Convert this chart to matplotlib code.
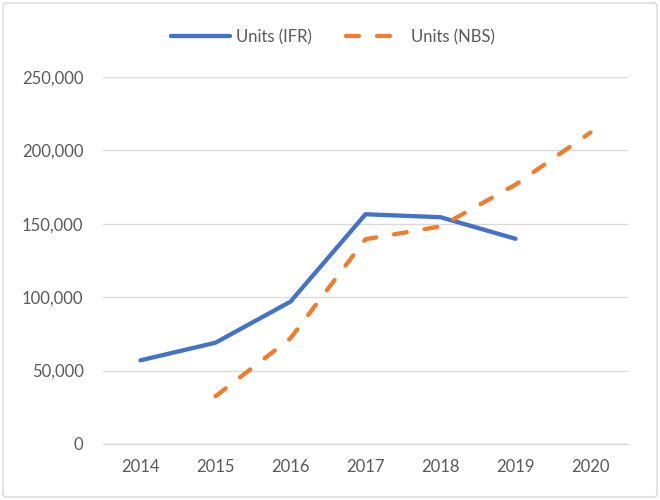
import matplotlib
matplotlib.use("Agg")
import matplotlib.pyplot as plt
from matplotlib.patches import FancyBboxPatch
from matplotlib.ticker import FuncFormatter

years = ["2014", "2015", "2016", "2017", "2018", "2019", "2020"]
ifr_years = ["2014", "2015", "2016", "2017", "2018", "2019"]
ifr_units = [57000, 69000, 97000, 156500, 154500, 139800]
nbs_years = ["2015", "2016", "2017", "2018", "2019", "2020"]
nbs_units = [32500, 72000, 139500, 148200, 176700, 212200]
yticks = [0, 50000, 100000, 150000, 200000, 250000]

plt.rcParams['font.family'] = ['Lato', 'DejaVu Sans']
text_color = '#595959'

fig = plt.figure(figsize=(6.6, 5.0), dpi=100)
ax = fig.add_axes([103/660, 1 - 444/500, 525/660, 367/500])

xpos = {y: i for i, y in enumerate(years)}
ax.plot([xpos[y] for y in ifr_years], ifr_units, color='#4472C4', lw=3.1,
        solid_capstyle='round', solid_joinstyle='round', label='Units (IFR)')
ax.plot([xpos[y] for y in nbs_years], nbs_units, color='#ED7D31', lw=3.1,
        dashes=(3.0, 4.2), dash_capstyle='round', label='Units (NBS)')

ax.set_xlim(-0.5, len(years) - 0.5)
ax.set_ylim(0, 250000)
ax.set_xticks(range(len(years)))
ax.set_xticklabels(years)
ax.set_yticks(yticks)
ax.yaxis.set_major_formatter(FuncFormatter(lambda v, p: f"{int(v):,}"))
ax.grid(axis='y', color='#D9D9D9', lw=1.0)
ax.set_axisbelow(True)
for s in ['top', 'right', 'left']:
    ax.spines[s].set_visible(False)
ax.spines['bottom'].set_color('#D9D9D9')
ax.spines['bottom'].set_linewidth(1.0)
ax.tick_params(axis='both', length=0, colors=text_color, labelsize=12)
ax.tick_params(axis='y', pad=14)
ax.tick_params(axis='x', pad=11)

leg = fig.legend(loc='center', bbox_to_anchor=(333/660, 1 - 37/500), ncol=2,
                 frameon=False, fontsize=12, handlelength=3.5, columnspacing=2.0,
                 handletextpad=0.4)
for t in leg.get_texts():
    t.set_color(text_color)

border = FancyBboxPatch((3/660, 3/500), 654/660, 494/500,
                        boxstyle="round,pad=0,rounding_size=0.006",
                        transform=fig.transFigure, fill=False,
                        edgecolor='#D9D9D9', lw=1.0)
fig.patches.append(border)

fig.savefig("out.png", dpi=100)
